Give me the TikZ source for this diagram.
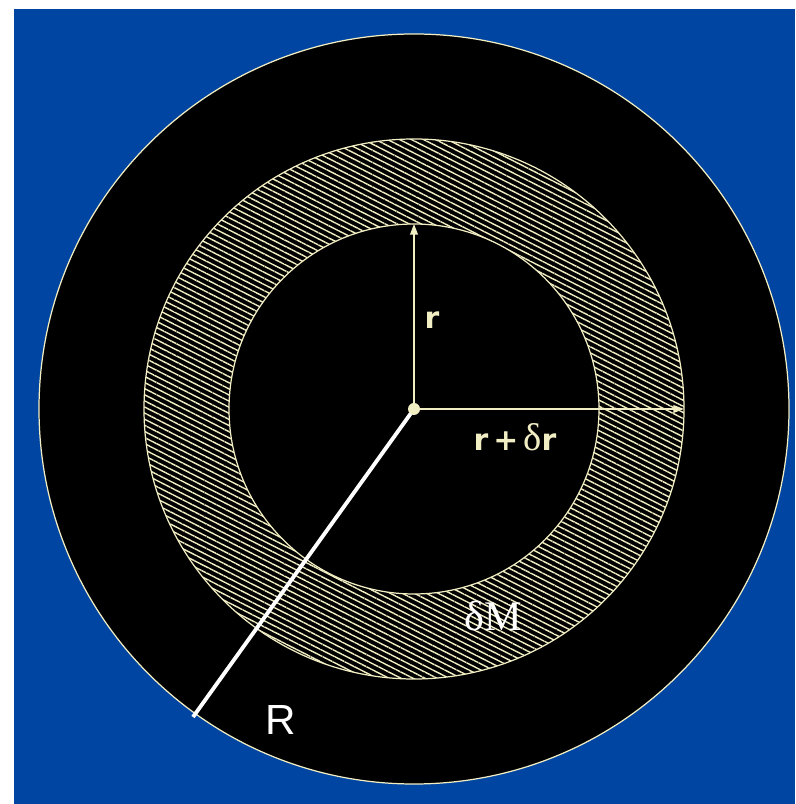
\documentclass[tikz,border=0pt]{standalone}
\usepackage{fontspec}
\setmainfont{Liberation Sans}
\newfontfamily\serifdelta{Liberation Serif}
\newfontfamily\boldlabel{DejaVu Sans}
\usetikzlibrary{arrows.meta,patterns.meta}
\definecolor{slideblue}{HTML}{0045A2}
\definecolor{chalkcream}{HTML}{F2EEC4}

\begin{document}
\begin{tikzpicture}[x=0.02cm,y=0.02cm,
    rim/.style={draw=chalkcream,line width=0.7pt},
    radius arrow/.style={chalkcream,line width=0.7pt,-{Triangle[length=6pt,width=4.4pt]}},
    cream label/.style={text=chalkcream,font=\boldlabel\bfseries\fontsize{17}{17}\selectfont,inner sep=0pt}]
    \useasboundingbox (0,0) rectangle (795,804);
    \fill[slideblue] (14,0) rectangle (795,795);
    % centre of the disc
    \coordinate (O) at (414,395);
    \fill[black,rim] (O) circle (375);
    \pattern[pattern={Lines[angle=-27,distance=3.1pt,line width=0.8pt]},pattern color=chalkcream,even odd rule]
      (O) circle (270) (O) circle (185);
    \draw[rim] (O) circle (270);
    \draw[rim] (O) circle (185);
    % radii
    \coordinate (rtip) at (414,580);
    \coordinate (drtip) at (684,395);
    \coordinate (Rtip) at (193,87);
    \draw[radius arrow] (O) -- (rtip);
    \draw[radius arrow] (O) -- (drtip);
    \draw[white,line width=2.2pt] (O) -- (Rtip);
    \fill[chalkcream] (O) circle (6);
    \node[cream label] (rlabel) at (432,484) {r};
    \node[cream label] (drlabel) at (515,367) {r\,+\,{\serifdelta\mdseries\fontsize{22}{22}\selectfont δ}r};
    \node[text=white,font=\serifdelta\fontsize{24}{24}\selectfont,inner sep=0pt] (dM) at (493,188) {δM};
    \node[text=white,font=\fontsize{24}{24}\selectfont,inner sep=0pt] (Rlabel) at (281,84) {R};
  \end{tikzpicture}
\end{document}
